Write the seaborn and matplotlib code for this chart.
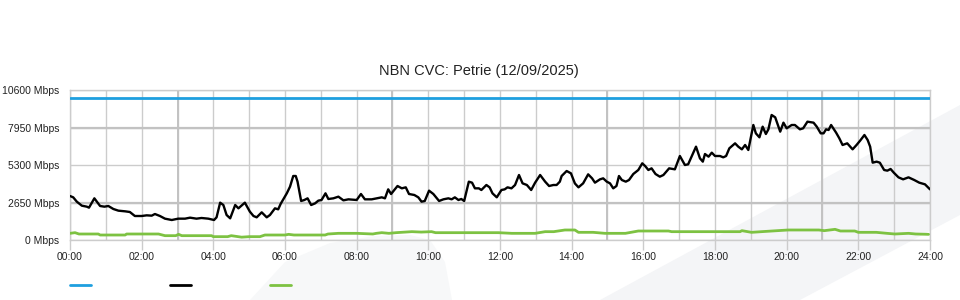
import numpy as np
import pandas as pd
import seaborn as sns
import matplotlib.pyplot as plt
from matplotlib.patches import Polygon
from matplotlib.lines import Line2D

# ---------------- data ----------------
title = "NBN CVC: Petrie (12/09/2025)"

capacity_hours = [0.0, 24.0]
capacity_mbps = [10000, 10000]

traffic_hours = [
    0.00, 0.09, 0.19, 0.33, 0.47, 0.53, 0.68, 0.84, 0.96, 1.07, 1.21, 1.35, 1.54, 1.67, 1.81,
    2.00, 2.14, 2.28, 2.37, 2.51, 2.65, 2.84, 3.02, 3.21, 3.35, 3.53, 3.67, 3.86, 4.02, 4.09,
    4.19, 4.28, 4.37, 4.47, 4.61, 4.70, 4.88, 5.02, 5.12, 5.21, 5.35, 5.49, 5.58, 5.72, 5.81,
    5.88, 6.05, 6.14, 6.23, 6.30, 6.35, 6.45, 6.54, 6.63, 6.73, 6.84, 6.93, 7.02, 7.13, 7.21,
    7.35, 7.49, 7.63, 7.77, 7.91, 8.00, 8.12, 8.23, 8.42, 8.56, 8.70, 8.79, 8.88, 8.96, 9.14,
    9.26, 9.37, 9.46, 9.61, 9.72, 9.81, 9.90, 10.02, 10.14, 10.30, 10.42, 10.56, 10.65, 10.74,
    10.84, 10.92, 11.00, 11.13, 11.22, 11.30, 11.41, 11.48, 11.62, 11.71, 11.79, 11.91, 12.04,
    12.13, 12.21, 12.32, 12.42, 12.53, 12.63, 12.75, 12.87, 12.98, 13.12, 13.26, 13.37, 13.49,
    13.58, 13.67, 13.72, 13.86, 13.98, 14.09, 14.19, 14.32, 14.46, 14.57, 14.65, 14.79, 14.88,
    14.98, 15.07, 15.16, 15.25, 15.32, 15.40, 15.51, 15.60, 15.72, 15.86, 15.97, 16.05, 16.14,
    16.23, 16.34, 16.46, 16.56, 16.72, 16.88, 17.02, 17.16, 17.25, 17.47, 17.58, 17.66, 17.72,
    17.82, 17.91, 18.00, 18.14, 18.23, 18.31, 18.40, 18.56, 18.65, 18.75, 18.84, 18.93, 19.07,
    19.14, 19.24, 19.33, 19.42, 19.49, 19.58, 19.68, 19.82, 19.91, 20.00, 20.14, 20.23, 20.37,
    20.46, 20.58, 20.75, 20.84, 20.95, 21.03, 21.10, 21.17, 21.24, 21.38, 21.47, 21.56, 21.69,
    21.84, 21.95, 22.05, 22.17, 22.26, 22.33, 22.40, 22.51, 22.60, 22.72, 22.81, 22.90, 22.99,
    23.12, 23.25, 23.40, 23.56, 23.70, 23.86, 24.00,
]
traffic_mbps = [
    3110, 3015, 2709, 2426, 2355, 2285, 2945, 2403, 2355, 2403, 2191, 2073, 2026, 1979, 1696,
    1696, 1743, 1720, 1837, 1696, 1508, 1413, 1508, 1508, 1578, 1508, 1555, 1508, 1413, 1602,
    2638, 2473, 1767, 1531, 2473, 2238, 2638, 2002, 1696, 1602, 1955, 1602, 1767, 2238, 2167,
    2560, 3298, 3769, 4523, 4523, 4122, 2756, 2827, 2945, 2473, 2591, 2780, 2827, 3298, 2898,
    2945, 3062, 2803, 2874, 2850, 2827, 3251, 2874, 2874, 2945, 3015, 2945, 3580, 3251, 3816,
    3651, 3722, 3251, 3180, 3015, 2709, 2756, 3486, 3251, 2756, 2874, 2945, 2874, 3015,
    2827, 2898, 2756, 4122, 4052, 3651, 3651, 3533, 3887, 3722, 3298, 3015, 3533,
    3580, 3722, 3650, 3887, 4593, 4004, 3887, 3533, 4052, 4593, 4122, 3816, 3887,
    3887, 4122, 4523, 4876, 4711, 3998, 3722, 4004, 4640, 4357, 4052, 4287, 4357,
    4122, 4004, 3651, 3816, 4523, 4240, 4122, 4240, 4664, 4947, 5418, 5229, 4947,
    5064, 4664, 4475, 4593, 5064, 4994, 5936, 5300, 5347, 6596, 5771, 5536, 6077,
    5889, 6172, 5936, 5936, 5842, 5936, 6478, 6831, 6596, 6407, 6714, 6360, 8127,
    7538, 7256, 8009, 7491, 7821, 8834, 8669, 7656, 8292, 7892, 8127, 8127, 7821,
    7892, 8362, 8292, 8009, 7538, 7538, 7821, 7774, 8127, 7585, 7185, 6714, 6832,
    6407, 6714, 7020, 7420, 7067, 6596, 5465, 5536, 5465, 4947, 4900, 5018, 4758,
    4428, 4287, 4428, 4240, 4052, 3934, 3580,
]

other_hours = [
    0.00, 0.14, 0.25, 0.79, 0.84, 1.54, 1.58, 2.47, 2.65, 2.95, 3.03, 3.12, 3.95, 4.00, 4.40,
    4.50, 4.79, 5.00, 5.30, 5.44, 6.00, 6.10, 6.25, 7.12, 7.20, 7.49, 8.00, 8.45, 8.55, 8.70,
    8.90, 9.10, 9.54, 9.80, 10.09, 10.20, 11.95, 12.33, 12.98, 13.26, 13.50, 13.81, 14.09,
    14.19, 14.60, 14.93, 15.50, 15.86, 16.70, 16.79, 18.70, 18.75, 19.02, 19.30, 20.04, 20.90,
    21.05, 21.35, 21.50, 21.90, 22.00, 22.50, 22.80, 23.02, 23.40, 23.60, 23.96,
]
other_mbps = [
    471, 518, 424, 424, 353, 353, 424, 424, 306, 306, 400, 306, 306, 236, 236,
    306, 200, 236, 236, 353, 353, 400, 353, 353, 424, 471, 471, 424, 471, 518,
    471, 518, 589, 560, 589, 518, 518, 471, 471, 589, 589, 707, 707,
    542, 542, 471, 471, 636, 636, 589, 589, 660, 542, 589, 707, 707,
    660, 754, 636, 636, 542, 542, 471, 424, 471, 424, 400,
]

y_ticks = [0, 2650, 5300, 7950, 10600]
y_tick_labels = [f"{v} Mbps" for v in y_ticks]
x_ticks = list(range(0, 25, 2))
x_tick_labels = [f"{h:02d}:00" for h in x_ticks]

BLUE = "#1e9fdf"
BLACK = "#000000"
GREEN = "#7dc242"
GRID = "#cccccc"

# ---------------- style ----------------
sns.set_theme(style="white")
plt.rcParams['font.family'] = ['Liberation Sans', 'DejaVu Sans']

W, H = 960, 300
fig = plt.figure(figsize=(W / 100, H / 100), dpi=100)
fig.patch.set_facecolor("white")

def fp(pts):
    return [(x / W, 1 - y / H) for x, y in pts]

# faint background watermark (behind everything)
fig.patches.append(Polygon(fp([(600, 300), (960, 105), (960, 215), (800, 300)]),
                           closed=True, transform=fig.transFigure, facecolor="#f4f5f7",
                           edgecolor="none", zorder=-5))
fig.patches.append(Polygon(fp([(250, 300), (285, 262), (330, 243), (375, 236), (410, 235),
                               (430, 240), (445, 262), (452, 300)]),
                           closed=True, transform=fig.transFigure, facecolor="#f7f8f9",
                           edgecolor="none", zorder=-5))

ax = fig.add_axes([70 / W, 1 - 240 / H, 860 / W, 150 / H])
ax.set_zorder(1)
ax.patch.set_alpha(0)

# grid
ax.set_xlim(0, 24)
ax.set_ylim(0, 10600)
ax.set_xticks(x_ticks)
ax.set_xticklabels(x_tick_labels)
ax.set_xticks(range(1, 24, 2), minor=True)
ax.set_yticks(y_ticks)
ax.set_yticklabels(y_tick_labels)
ax.grid(True, which="both", axis="x", color=GRID, lw=1.0, zorder=1)
ax.grid(True, which="major", axis="y", color=GRID, lw=1.0, zorder=1)
for h in [3, 9, 15, 21]:
    ax.axvline(h, color="#c2c2c2", lw=1.4, zorder=1)
for v in [2650, 7950]:
    ax.axhline(v, color="#c2c2c2", lw=1.6, zorder=1)

for s in ax.spines.values():
    s.set_color(GRID)
    s.set_linewidth(1.0)

ax.tick_params(axis="x", which="major", length=7.2, width=1, color=GRID, direction="out",
               pad=1.5, labelsize=7.5, labelcolor="#222222", bottom=True)
ax.tick_params(axis="x", which="minor", length=0)
ax.tick_params(axis="y", length=0, pad=7.5, labelsize=7.5, labelcolor="#222222")

# series
sns.lineplot(x=capacity_hours, y=capacity_mbps, ax=ax, color=BLUE, lw=2.0,
             estimator=None, sort=False, zorder=3)
sns.lineplot(x=other_hours, y=other_mbps, ax=ax, color=GREEN, lw=2.0,
             estimator=None, sort=False, zorder=3)
sns.lineplot(x=traffic_hours, y=traffic_mbps, ax=ax, color=BLACK, lw=1.7,
             estimator=None, sort=False, zorder=4)
ax.set_xlabel("")
ax.set_ylabel("")

fig.text(479 / W, 1 - 71 / H, title, ha="center", va="center", fontsize=10.5, color="#222222")

# legend swatches (no labels)
for x0, c in [(70, BLUE), (170, BLACK), (270, GREEN)]:
    fig.add_artist(Line2D([x0 / W, (x0 + 21) / W], [1 - 285 / H, 1 - 285 / H],
                          transform=fig.transFigure, color=c, lw=2.0))

fig.savefig("out.png", dpi=100)
